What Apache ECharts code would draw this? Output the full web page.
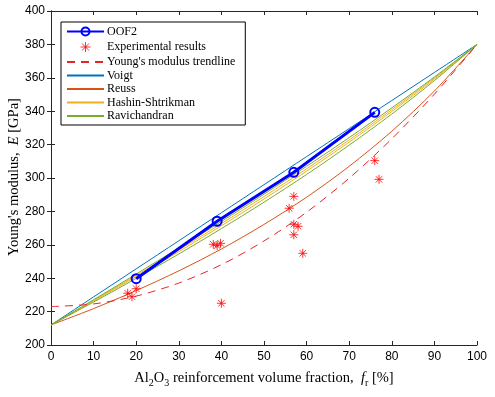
<!DOCTYPE html>
<html>
<head>
<meta charset="utf-8">
<script src="https://cdn.jsdelivr.net/npm/echarts@6/dist/echarts.min.js"></script>
<style>
  html, body { margin: 0; padding: 0; background: #fff; }
  #main { width: 495px; height: 397px; }
</style>
</head>
<body>
<div id="main"></div>
<script>
// volume fraction [%] for the model curves
var fr = [0, 10, 20, 30, 40, 50, 60, 70, 80, 90, 100];
// values, GPa
var voigt = [212, 228.8, 245.6, 262.4, 279.2, 296, 312.8, 329.6, 346.4, 363.2, 380];
var reuss = [212, 221.8, 232.6, 244.4, 257.5, 272.2, 288.5, 307.0, 328.0, 352.1, 380];
var hsUpper = [212, 226.7, 241.7, 257.0, 272.7, 288.9, 305.5, 322.8, 340.9, 359.9, 380];
var hsLower = [212, 226.3, 240.9, 255.9, 271.4, 287.4, 304.1, 321.5, 339.8, 359.2, 380];
var ravUpper = [212, 227.1, 242.5, 258.1, 274.0, 290.3, 307.0, 324.2, 342.0, 360.5, 380];
var ravLower = [212, 225.7, 239.9, 254.5, 269.7, 285.5, 302.1, 319.7, 338.3, 358.3, 380];
var trend = [223, 224.6, 229.3, 237.1, 248.1, 262.3, 279.5, 299.9, 323.5, 350.2, 380];

var oofX = [20, 39, 57, 76];
var oofE = [239.7, 274.1, 303.4, 339.3];

var expX = [18, 19, 20, 38.1, 39, 39.8, 40, 55.9, 57, 57, 58, 57, 59.1, 76, 77];
var expE = [231, 228.9, 233.7, 260.3, 259.5, 260.9, 225, 281.9, 289, 272.3, 271.1, 266, 254.9, 310.4, 299.2];

var legendNames = ['OOF2', 'Experimental results', "Young's modulus trendline", 'Voigt', 'Reuss', 'Hashin-Shtrikman', 'Ravichandran'];

function pairs(xs, ys) {
    return xs.map(function (x, i) { return [x, ys[i]]; });
}

var myChart = echarts.init(document.getElementById('main'));

var axisCol = '#262626';
var serif = 'Liberation Serif';
var star = 'path://M0,-8L0,8M-8,0L8,0M-5.7,-5.7L5.7,5.7M-5.7,5.7L5.7,-5.7';

function modelLine(name, data, color) {
    return {
        name: name, type: 'line', data: pairs(fr, data),
        showSymbol: false, symbol: 'none', smooth: 0.3,
        lineStyle: { color: color, width: 1 },
        itemStyle: { color: color },
        z: 2
    };
}

// 图例: 只有线的条目把圆点藏起来
var legendData = legendNames.map(function (n) {
    if (n === 'OOF2') return { name: n };
    if (n === 'Experimental results') return { name: n, itemStyle: { borderWidth: 1 } };
    return { name: n, itemStyle: { opacity: 0 } };
});

var option = {
    animation: false,
    backgroundColor: '#fff',
    grid: { left: 51, right: 18, top: 11, bottom: 52, outerBoundsMode: 'none', containLabel: false },
    legend: {
        orient: 'vertical',
        left: 61, top: 22,
        padding: [3, 10, 3, 5],
        itemWidth: 37, itemHeight: 10, itemGap: 1.5,
        borderColor: '#000', borderWidth: 1,
        backgroundColor: '#fff',
        textStyle: { fontFamily: serif, fontSize: 12, lineHeight: 10, color: '#000', padding: [0, 0, 0, -2] },
        data: legendData
    },
    // y 轴标题单独放, 轴名称的位置挪不动
    graphic: [{
        type: 'text',
        x: 14, y: 177, rotation: Math.PI / 2,
        style: {
            text: "{t|Young's modulus,  }{i|E}{t| [GPa]}",
            align: 'center', verticalAlign: 'middle',
            rich: {
                t: { fontFamily: serif, fontSize: 14.5, fill: '#000' },
                i: { fontFamily: serif, fontSize: 14.5, fontStyle: 'italic', fill: '#000' }
            }
        }
    }],
    xAxis: [{
        type: 'value', min: 0, max: 100, interval: 10,
        name: '{t|Al}{s|2}{t|O}{s|3}{t| reinforcement volume fraction,  }{i|f}{s|r}{t| [%]}',
        nameLocation: 'middle', nameGap: 23,
        nameTextStyle: {
            rich: {
                t: { fontFamily: serif, fontSize: 14.5, color: '#000' },
                i: { fontFamily: serif, fontSize: 14.5, fontStyle: 'italic', color: '#000' },
                s: { fontFamily: serif, fontSize: 10, color: '#000', padding: [10, 0, 0, 0] }
            }
        },
        axisLine: { lineStyle: { color: axisCol, width: 1 } },
        axisTick: { inside: true, length: 4, lineStyle: { color: axisCol } },
        axisLabel: { fontFamily: 'Liberation Sans', fontSize: 12, color: '#000', margin: 6 },
        splitLine: { show: false }
    }, {
        type: 'value', min: 0, max: 100, interval: 10, position: 'top',
        axisLine: { lineStyle: { color: axisCol, width: 1 } },
        axisTick: { inside: true, length: 4, lineStyle: { color: axisCol } },
        axisLabel: { show: false },
        splitLine: { show: false }
    }],
    yAxis: [{
        type: 'value', min: 200, max: 400, interval: 20,
        axisLine: { show: true, lineStyle: { color: axisCol, width: 1 } },
        axisTick: { show: true, inside: true, length: 4, lineStyle: { color: axisCol } },
        axisLabel: { fontFamily: 'Liberation Sans', fontSize: 12, color: '#000', margin: 6 },
        splitLine: { show: false }
    }, {
        type: 'value', min: 200, max: 400, interval: 20, position: 'right',
        axisLine: { show: true, lineStyle: { color: axisCol, width: 1 } },
        axisTick: { show: true, inside: true, length: 4, lineStyle: { color: axisCol } },
        axisLabel: { show: false },
        splitLine: { show: false }
    }],
    series: [
        modelLine('Voigt', voigt, '#0072BD'),
        modelLine('Reuss', reuss, '#D95319'),
        modelLine('Hashin-Shtrikman', hsUpper, '#EDB120'),
        modelLine('Hashin-Shtrikman', hsLower, '#EDB120'),
        modelLine('Ravichandran', ravUpper, '#77AC30'),
        modelLine('Ravichandran', ravLower, '#77AC30'),
        {
            name: "Young's modulus trendline", type: 'line', data: pairs(fr, trend),
            showSymbol: false, symbol: 'none', smooth: 0.3,
            lineStyle: { color: '#E8262A', width: 1, type: [8, 6] },
            itemStyle: { color: '#E8262A' },
            z: 3
        },
        {
            name: 'Experimental results', type: 'scatter', data: pairs(expX, expE),
            symbol: star, symbolSize: 9,
            itemStyle: { color: 'none', borderColor: '#FF0000', borderWidth: 1 },
            z: 4
        },
        {
            name: 'OOF2', type: 'line', data: pairs(oofX, oofE),
            symbol: 'circle', symbolSize: 9, showAllSymbol: true,
            lineStyle: { color: '#0000FF', width: 3 },
            itemStyle: { color: 'none', borderColor: '#0000FF', borderWidth: 2 },
            z: 5
        }
    ]
};
myChart.setOption(option);
</script>
</body>
</html>
